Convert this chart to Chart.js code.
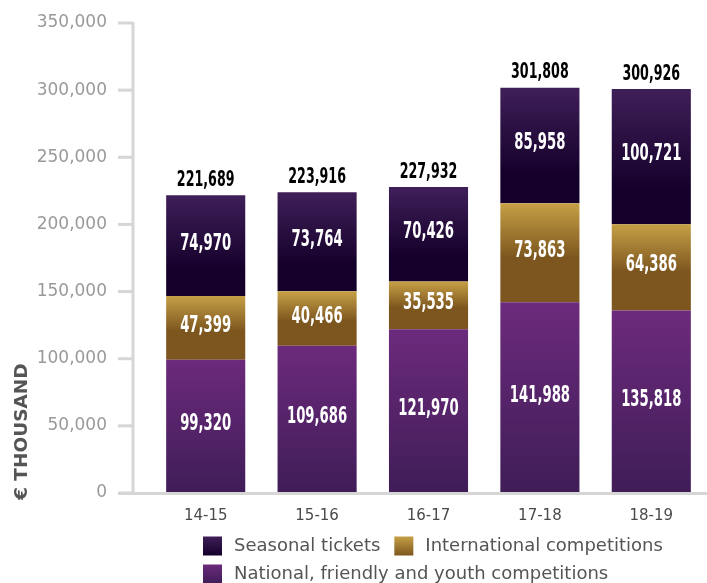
<!DOCTYPE html>
<html>
<head>
<meta charset="utf-8">
<script src="https://cdn.jsdelivr.net/npm/chart.js@4/dist/chart.umd.min.js"></script>
<style>
  html, body { margin: 0; padding: 0; background: #ffffff; }
  canvas { display: block; }
</style>
</head>
<body>
<canvas id="c" width="707" height="583"></canvas>
<script>
// Season revenue breakdown (€ thousand)
const seasons = ['14-15', '15-16', '16-17', '17-18', '18-19'];
const national = [99320, 109686, 121970, 141988, 135818];
const international = [47399, 40466, 35535, 73863, 64386];
const seasonal = [74970, 73764, 70426, 85958, 100721];
const totals = [221689, 223916, 227932, 301808, 300926];
const yTicks = [0, 50000, 100000, 150000, 200000, 250000, 300000, 350000];

const seriesLabels = {
  seasonal: 'Seasonal tickets',
  international: 'International competitions',
  national: 'National, friendly and youth competitions'
};

// gradient stops (top colour, bottom colour, where the bottom colour is reached)
const palette = {
  national: ['#6c2a7c', '#3f1d57'],
  international: ['#c6a046', '#7d561f', 0.55],
  seasonal: ['#3f1f58', '#14002a', 0.75]
};

const fmt = v => v.toLocaleString('en-US');

function segmentGradient(key, stackBelow) {
  return function (ctx) {
    const chart = ctx.chart;
    const y = chart.scales.y;
    const [top, bottom, mid] = palette[key];
    if (!chart.chartArea || !y || ctx.type !== 'data') return top;
    const i = ctx.dataIndex;
    const base = stackBelow.reduce((s, arr) => s + arr[i], 0);
    const own = ctx.dataset.data[i];
    const yTop = y.getPixelForValue(base + own);
    const yBot = y.getPixelForValue(base);
    if (!isFinite(yTop) || !isFinite(yBot) || yTop === yBot) return top;
    const g = chart.ctx.createLinearGradient(0, yTop, 0, yBot);
    g.addColorStop(0, top);
    g.addColorStop(mid || 1, bottom);
    g.addColorStop(1, bottom);
    return g;
  };
}

// axis lines, value labels, y title and legend
const decorations = {
  id: 'decorations',
  afterDatasetsDraw(chart) {
    const { ctx, chartArea, scales } = chart;
    const y = scales.y;
    const axisX = chartArea.left - 17;
    const zeroY = y.getPixelForValue(0);

    ctx.save();
    ctx.strokeStyle = '#d6d6d6';
    ctx.lineWidth = 3;
    ctx.lineCap = 'butt';
    // vertical axis
    ctx.beginPath();
    ctx.moveTo(axisX, y.getPixelForValue(yTicks[yTicks.length - 1]) - 1);
    ctx.lineTo(axisX, zeroY + 1.5);
    ctx.stroke();
    // tick marks
    yTicks.forEach(t => {
      const py = y.getPixelForValue(t);
      ctx.beginPath();
      ctx.moveTo(axisX - 15, py);
      ctx.lineTo(axisX, py);
      ctx.stroke();
    });
    // baseline
    ctx.beginPath();
    ctx.moveTo(axisX - 15, zeroY + 0.5);
    ctx.lineTo(chart.width, zeroY + 0.5);
    ctx.stroke();

    // segment labels
    const drawNarrow = (text, x, yy, color, size) => {
      ctx.save();
      ctx.translate(x, yy);
      ctx.scale(0.64, 1);
      ctx.font = 'bold ' + size + 'px "DejaVu Sans Condensed", "DejaVu Sans", sans-serif';
      ctx.fillStyle = color;
      ctx.textAlign = 'center';
      ctx.textBaseline = 'middle';
      ctx.fillText(text, 0, 0);
      ctx.restore();
    };
    chart.data.datasets.forEach((ds, di) => {
      const meta = chart.getDatasetMeta(di);
      meta.data.forEach((el, i) => {
        drawNarrow(fmt(ds.data[i]), el.x, (el.y + el.base) / 2 - 2, '#ffffff', 23);
      });
    });
    // totals above each stack
    const topMeta = chart.getDatasetMeta(chart.data.datasets.length - 1);
    topMeta.data.forEach((el, i) => {
      drawNarrow(fmt(totals[i]), el.x, el.y - 15, '#000000', 22);
    });

    // y axis title
    ctx.save();
    ctx.translate(22, zeroY + 7);
    ctx.rotate(-Math.PI / 2);
    ctx.font = 'bold 18.5px "DejaVu Sans", sans-serif';
    ctx.fillStyle = '#555555';
    ctx.textAlign = 'left';
    ctx.textBaseline = 'middle';
    ctx.fillText('€ THOUSAND', 0, 0);
    ctx.restore();

    // legend (top of stack first)
    const items = chart.data.datasets.slice().reverse();
    const box = 19, gapText = 12, gapItem = 14, rowH = 28;
    const left = chartArea.left + 53;
    const maxRight = chart.width - 10;
    let lx = left, ly = zeroY + 53;
    ctx.font = '500 18px "DejaVu Sans", sans-serif';
    ctx.textBaseline = 'middle';
    ctx.textAlign = 'left';
    items.forEach(ds => {
      const w = box + gapText + ctx.measureText(ds.label).width;
      if (lx > left && lx + w > maxRight) { lx = left; ly += rowH; }
      const [c1, c2] = palette[ds.key];
      const g = ctx.createLinearGradient(0, ly - box / 2, 0, ly + box / 2);
      g.addColorStop(0, c1);
      g.addColorStop(1, c2);
      ctx.fillStyle = g;
      ctx.fillRect(lx, ly - box / 2, box, box);
      ctx.fillStyle = '#555555';
      ctx.fillText(ds.label, lx + box + gapText, ly);
      lx += w + gapItem;
    });
    ctx.restore();
  }
};

new Chart(document.getElementById('c'), {
  type: 'bar',
  data: {
    labels: seasons,
    datasets: [
      { key: 'national', label: seriesLabels.national, data: national,
        backgroundColor: segmentGradient('national', []) },
      { key: 'international', label: seriesLabels.international, data: international,
        backgroundColor: segmentGradient('international', [national]) },
      { key: 'seasonal', label: seriesLabels.seasonal, data: seasonal,
        backgroundColor: segmentGradient('seasonal', [national, international]) }
    ]
  },
  options: {
    responsive: false,
    devicePixelRatio: 1,
    animation: false,
    layout: { padding: { top: 23, right: 0, left: 0, bottom: 0 } },
    datasets: { bar: { barPercentage: 0.71, categoryPercentage: 1.0, borderWidth: 0 } },
    plugins: { legend: { display: false }, tooltip: { enabled: false } },
    scales: {
      x: {
        stacked: true,
        grid: { display: false, drawTicks: false },
        border: { display: false },
        ticks: { color: '#4a4a4a', padding: 14, font: { family: '"DejaVu Sans", sans-serif', size: 15, weight: '500' } },
        afterFit(s) { s.height = 90; }
      },
      y: {
        stacked: true,
        min: 0,
        max: 350000,
        afterBuildTicks(s) { s.ticks = yTicks.map(v => ({ value: v })); },
        grid: { display: false, drawTicks: false },
        border: { display: false },
        ticks: {
          color: '#999999',
          padding: 43,
          font: { family: '"DejaVu Sans", sans-serif', size: 17, weight: '500' },
          callback: v => fmt(v)
        },
        afterFit(s) {
          s.width = 150;
          // the horizontal label gap should not reserve vertical space
          s.paddingTop = 10;
          s.paddingBottom = 10;
        }
      }
    }
  },
  plugins: [decorations]
});
</script>
</body>
</html>
